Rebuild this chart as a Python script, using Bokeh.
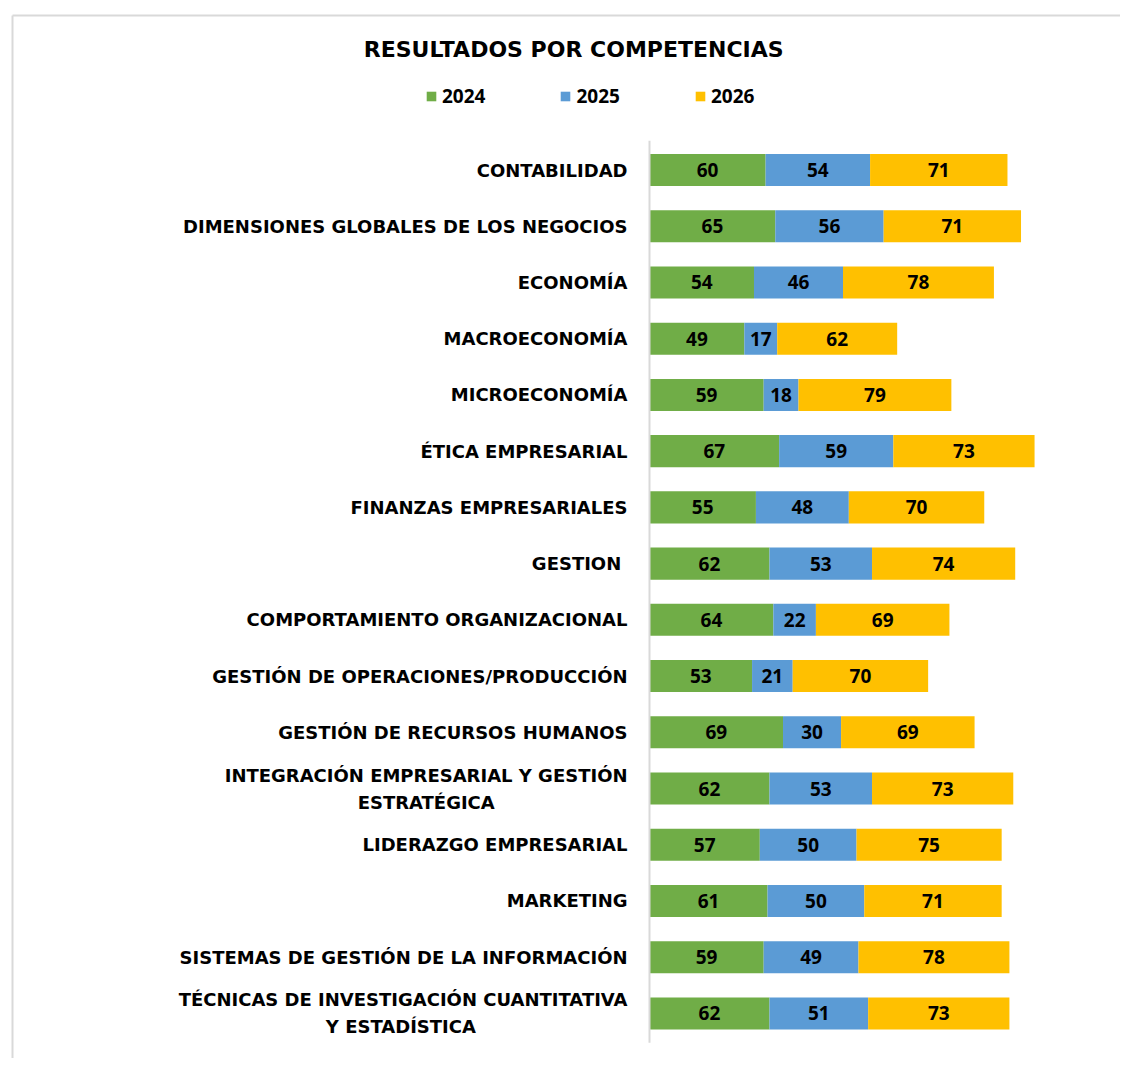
import numpy as np
from bokeh.plotting import figure
from bokeh.models import Range1d, ColumnDataSource, Legend, LegendItem, Label
from bokeh.core.properties import value
from bokeh.embed import file_html
from bokeh.resources import INLINE

# ---------------- data ----------------
categories = [
    "CONTABILIDAD",
    "DIMENSIONES GLOBALES DE LOS NEGOCIOS",
    "ECONOMÍA",
    "MACROECONOMÍA",
    "MICROECONOMÍA",
    "ÉTICA EMPRESARIAL",
    "FINANZAS EMPRESARIALES",
    "GESTION ",
    "COMPORTAMIENTO ORGANIZACIONAL",
    "GESTIÓN DE OPERACIONES/PRODUCCIÓN",
    "GESTIÓN DE RECURSOS HUMANOS",
    "INTEGRACIÓN EMPRESARIAL Y GESTIÓN\nESTRATÉGICA",
    "LIDERAZGO EMPRESARIAL",
    "MARKETING",
    "SISTEMAS DE GESTIÓN DE LA INFORMACIÓN",
    "TÉCNICAS DE INVESTIGACIÓN CUANTITATIVA\nY ESTADÍSTICA",
]
v2024 = [60, 65, 54, 49, 59, 67, 55, 62, 64, 53, 69, 62, 57, 61, 59, 62]
v2025 = [54, 56, 46, 17, 18, 59, 48, 53, 22, 21, 30, 53, 50, 50, 49, 51]
v2026 = [71, 71, 78, 62, 79, 73, 70, 74, 69, 70, 69, 73, 75, 71, 78, 73]
years = ["2024", "2025", "2026"]
colors = ["#70AD47", "#5B9BD5", "#FFC000"]
title_text = "RESULTADOS  POR COMPETENCIAS"

# ---------------- layout helpers (page px -> data units) ----------------
W, H = 1120, 1058
X0, SX = 649.0, 1.935      # page x of value 0, px per unit
Y0, SY = 169.5, 56.23      # page y of first category, px per category


def dx(px):
    return (px - X0) / SX


def dy(py):
    return (py - Y0) / SY


FONT = "Open Sans"
LFONT = "DejaVu Sans"
LSIZE = 18

# approximate DejaVu Sans Bold advance widths (em) for centring 2-line labels
_ADV = {" ": 0.348, "A": 0.774, "B": 0.760, "C": 0.730, "D": 0.831, "E": 0.683,
        "F": 0.683, "G": 0.823, "H": 0.837, "I": 0.372, "L": 0.637, "M": 0.988,
        "N": 0.837, "O": 0.850, "P": 0.731, "R": 0.770, "S": 0.720, "T": 0.682,
        "U": 0.812, "V": 0.774, "Y": 0.724, "Z": 0.692, "/": 0.365}
_BASE = {"Á": "A", "É": "E", "Í": "I", "Ó": "O", "Ú": "U"}


def text_w(s, size):
    return sum(_ADV.get(_BASE.get(c, c), 0.75) for c in s) * size


p = figure(width=W, height=H, output_backend="svg", toolbar_location=None,
           x_range=Range1d(dx(0), dx(W)), y_range=Range1d(dy(H), dy(0)),
           x_axis_location=None, y_axis_location=None, min_border=0,
           outline_line_color=None, background_fill_color="white",
           border_fill_color="white")
p.grid.visible = False

n = len(categories)
ys = np.arange(n)
src = ColumnDataSource({"y": ys, "2024": v2024, "2025": v2025, "2026": v2026})

# chart border (light gray frame, cut at right/bottom)
p.segment(x0=[dx(12), dx(12)], y0=[dy(15), dy(15)], x1=[dx(12), dx(1140)],
          y1=[dy(1080), dy(15)], line_color="#D9D9D9", line_width=2)

renderers = p.hbar_stack(years, y="y", height=0.57, color=colors, source=src,
                         line_color=None)

# vertical category axis line
p.segment(x0=[0], y0=[-0.52], x1=[0], y1=[n - 0.48], line_color="#D9D9D9", line_width=2)

# value labels centred in each segment
arr = np.array([v2024, v2025, v2026], dtype=float)
starts = np.vstack([np.zeros(n), np.cumsum(arr, axis=0)[:-1]])
centers = starts + arr / 2
lx, ly, lt = [], [], []
for k in range(3):
    lx += list(centers[k])
    ly += list(ys)
    lt += [str(int(v)) for v in arr[k]]
p.text(x=lx, y=ly, text=lt, text_align="center", text_baseline="middle",
       text_font=value(FONT), text_font_style="bold", text_font_size="19px",
       text_color="black")

# category labels (two-line labels: second line centred under the first)
anchor = dx(627)
half_gap = 13.5 / SY
t1x, t1y, t1t = [], [], []
t2x, t2y, t2t = [], [], []
for i, cat in enumerate(categories):
    lines = cat.split("\n")
    if len(lines) == 1:
        t1x.append(anchor); t1y.append(i); t1t.append(cat)
    else:
        t1x.append(anchor); t1y.append(i - half_gap); t1t.append(lines[0])
        t2x.append(anchor - text_w(lines[0], LSIZE) / 2 / SX)
        t2y.append(i + half_gap); t2t.append(lines[1])
p.text(x=t1x, y=t1y, text=t1t, text_align="right", text_baseline="middle",
       text_font=value(LFONT), text_font_style="bold",
       text_font_size=f"{LSIZE}px", text_color="black")
p.text(x=t2x, y=t2y, text=t2t, text_align="center", text_baseline="middle",
       text_font=value(LFONT), text_font_style="bold",
       text_font_size=f"{LSIZE}px", text_color="black")

# title
p.add_layout(Label(x=dx(577), y=dy(49), text=title_text, text_align="center",
                   text_baseline="middle", text_font=LFONT, text_font_style="bold",
                   text_font_size="22px", text_color="black"))

# legend
legend = Legend(items=[LegendItem(label=years[i], renderers=[renderers[i]]) for i in range(3)],
                orientation="horizontal", location=(425, H - 109),
                glyph_width=12, glyph_height=12, label_standoff=5, spacing=74,
                padding=0, margin=0, border_line_color=None, background_fill_alpha=0,
                label_text_font=FONT, label_text_font_style="bold",
                label_text_color="black",
                label_text_font_size="19px", label_height=20)
p.add_layout(legend, "center")

open("out.html", "w").write(file_html(p, INLINE))
